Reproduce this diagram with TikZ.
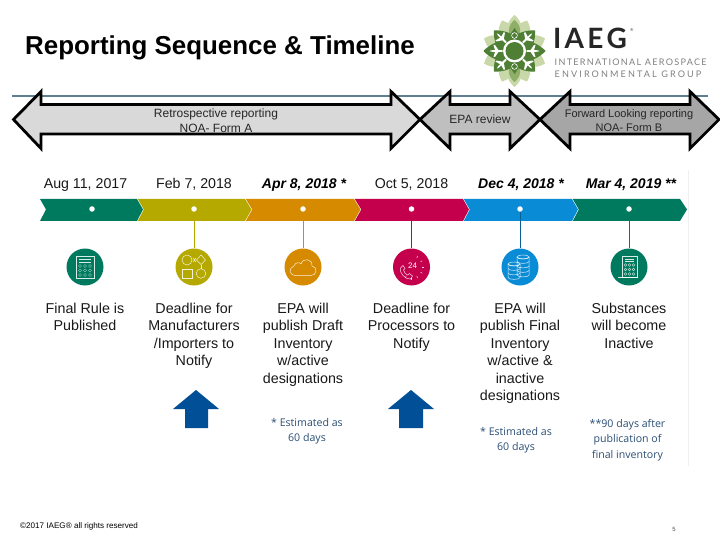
\documentclass[tikz,border=0pt]{standalone}
\usepackage{fontspec}
\setmainfont{Liberation Sans}
\newfontfamily\notefont{Open Sans}
\newfontfamily\logofont{Lato}
\newfontfamily\logospaced[LetterSpace=14]{Lato}
\newfontfamily\logowider[LetterSpace=23]{Lato}
\definecolor{cteal}{HTML}{007A5E}
\definecolor{colive}{HTML}{B5A900}
\definecolor{corange}{HTML}{D68A00}
\definecolor{ccrim}{HTML}{C4004C}
\definecolor{cblue}{HTML}{0A8BD6}
\definecolor{cbar}{HTML}{5F7F8F}
\definecolor{cup}{HTML}{004F97}
\definecolor{cnote}{HTML}{2A4E75}
\definecolor{lgdark}{HTML}{4E7F35}
\definecolor{lgmid}{HTML}{8FAE68}
\definecolor{lglight}{HTML}{C9D8A8}
\tikzset{
  x=1pt,y=-1pt,
  bigarrow/.style={draw=black,line width=2.8pt,miter limit=10,line join=miter},
  arrowtext/.style={font=\fontsize{12}{15.5}\selectfont,align=center,text=black!85,inner sep=0pt},
  datelabel/.style={font=\fontsize{14.2}{16}\selectfont,inner sep=0pt,text=black!90,anchor=base},
  datebold/.style={font=\fontsize{14}{16}\selectfont\bfseries\itshape,inner sep=0pt,anchor=base},
  desc/.style={font=\fontsize{14.3}{17.5}\selectfont,align=center,anchor=north,inner sep=0pt,text=black!90},
  tdot/.style={circle,fill=white,inner sep=0pt,minimum size=5.5pt},
  disc/.style={circle,inner sep=0pt,minimum size=37pt},
  conn/.style={line width=0.9pt},
  icon/.style={draw=white,draw opacity=0.85,line width=0.5pt,fill=none},
  note/.style={font=\notefont\fontsize{10.6}{15.3}\selectfont,text=cnote,align=center,inner sep=0pt}
}
\begin{document}
\begin{tikzpicture}
\useasboundingbox (0,0) rectangle (720,540);
\fill[white] (0,0) rectangle (720,540);
% title
\node[anchor=base west,inner sep=0pt,font=\fontsize{25.9}{30}\selectfont\bfseries] (title) at (25,55) {Reporting Sequence \& Timeline};
% rule behind the arrows
\coordinate (ruleL) at (12,96);
\coordinate (ruleR) at (708,96);
\draw[cbar,line width=1.8pt] (ruleL) -- (ruleR);
% logo
\begin{scope}[shift={(514.5,51)}]
  \foreach \a in {22.5,67.5,...,337.5} {
    \fill[lglight,rotate=\a] (0,-8) .. controls (-12,-16) and (-9,-26) .. (0,-33) .. controls (9,-26) and (12,-16) .. (0,-8) -- cycle;
  }
  \foreach \a in {0,180} {
    \fill[lglight,rotate=\a] (0,-8) .. controls (-12,-20) and (-7,-30) .. (0,-36) .. controls (7,-30) and (12,-20) .. (0,-8) -- cycle;
    \fill[lgmid,rotate=\a] (0,-8) .. controls (-9,-18) and (-6,-26) .. (0,-31) .. controls (6,-26) and (9,-18) .. (0,-8) -- cycle;
  }
  \foreach \a/\r in {45/29,90/31,135/29,225/29,270/31,315/29} {
    \fill[lgdark,rotate=\a] (-10,-9) .. controls (-11,-15) and (-6,-\r+5) .. (0,-\r) .. controls (6,-\r+5) and (11,-15) .. (10,-9) -- (0,0) -- cycle;
  }
  \foreach \a in {0,180} {
    \fill[lgdark,rotate=\a] (-8,-11) -- (0,-23) -- (8,-11) -- (0,0) -- cycle;
  }
  \foreach \a in {45,90,135,225,270,315} {
    \fill[white,rotate=\a] (-0.9,-12) -- (-0.9,-16) -- (-6,-19.5) -- (-6,-21) -- (-0.9,-19.5) -- (-0.7,-23) -- (0,-25) -- (0.7,-23) -- (0.9,-19.5) -- (6,-21) -- (6,-19.5) -- (0.9,-16) -- (0.9,-12) -- cycle;
  }
  \fill[white] (0,0) circle (11.5);
  \fill[lgdark] (0,0) circle (9);
  \foreach \a in {0,180} {
    \fill[white,rotate=\a] (0,-15.5) circle (3.2);
    \fill[lgdark,rotate=\a] (0,-15.5) circle (2.4);
  }
\end{scope}
\node[anchor=base west,inner sep=0pt,font=\logofont\bfseries\fontsize{28}{30}\selectfont,text=black!85] (iaeg) at (553,49) {I\kern3.2pt A\kern3.2pt E\kern3.2pt G};
\node[anchor=base west,inner sep=0pt,font=\logofont\fontsize{4}{4}\selectfont,text=black!70] (reg) at (630,32) {®};
\node[anchor=base west,inner sep=0pt,font=\logospaced\fontsize{9.1}{12}\selectfont,text=black!50] (lg1) at (554.5,65.5) {INTERNATIONAL AEROSPACE};
\node[anchor=base west,inner sep=0pt,font=\logowider\fontsize{9.1}{12}\selectfont,text=black!50] (lg2) at (554.5,77.5) {ENVIRONMENTAL GROUP};
% big arrows
\draw[bigarrow,fill=black!15] (13.5,119.5) -- (41,91.5) -- (41,104.5) -- (391,104.5) -- (391,91.5) -- (420,119.5) -- (391,148.5) -- (391,134) -- (41,134) -- (41,148.5) -- cycle;
\draw[bigarrow,fill=black!25] (420,119.5) -- (450,91.5) -- (450,104.5) -- (510,104.5) -- (510,91.5) -- (540,119.5) -- (510,148.5) -- (510,134) -- (450,134) -- (450,148.5) -- cycle;
\draw[bigarrow,fill=black!35] (540,119.5) -- (570,91.5) -- (570,104.5) -- (690,104.5) -- (690,91.5) -- (719,119.5) -- (690,148.5) -- (690,134) -- (570,134) -- (570,148.5) -- cycle;
\node[arrowtext] (t1) at (216,120.5) {Retrospective reporting\\NOA- Form A};
\node[arrowtext] (t2) at (480,119.5) {EPA review};
\node[arrowtext,font=\fontsize{11}{14.5}\selectfont] (t3) at (629,120.5) {Forward Looking reporting\\NOA- Form B};
% faint edge of the picture
\draw[black!6,line width=0.8pt] (688,170) -- (688,466);
% dates
\node[datelabel] (d1) at (85.5,189) {Aug 11, 2017};
\node[datelabel] (d2) at (194,189) {Feb 7, 2018};
\node[datebold] (d3) at (304,189) {Apr 8, 2018 *};
\node[datelabel] (d4) at (411.5,189) {Oct 5, 2018};
\node[datebold] (d5) at (521,189) {Dec 4, 2018 *};
\node[datebold] (d6) at (631,189) {Mar 4, 2019 **};
% band
\fill[cteal] (40,199) -- (137,199) -- (143,209.5) -- (137,221) -- (40,221) -- (46,209.5) -- cycle;
\fill[colive] (137.8,199) -- (245,199) -- (251.5,209.5) -- (245,221) -- (137.8,221) -- (143.8,209.5) -- cycle;
\fill[corange] (245.8,199) -- (354,199) -- (360.5,209.5) -- (354,221) -- (245.8,221) -- (252.3,209.5) -- cycle;
\fill[ccrim] (354.8,199) -- (463,199) -- (469,209.5) -- (463,221) -- (354.8,221) -- (361.3,209.5) -- cycle;
\fill[cblue] (463.8,199) -- (572,199) -- (578,209.5) -- (572,221) -- (463.8,221) -- (469.8,209.5) -- cycle;
\fill[cteal] (572.8,199) -- (680,199) -- (687,209.5) -- (680,221) -- (572.8,221) -- (578.8,209.5) -- cycle;
% dots and discs
\node[tdot] (p1) at (92,209) {};
\node[tdot] (p2) at (194,209) {};
\node[tdot] (p3) at (303,209) {};
\node[tdot] (p4) at (411.5,209) {};
\node[tdot] (p5) at (520,209) {};
\node[tdot] (p6) at (629,209) {};
\node[disc,fill=cteal] (c1) at (85,267) {};
\node[disc,fill=colive] (c2) at (194,267) {};
\node[disc,fill=corange] (c3) at (303,267) {};
\node[disc,fill=ccrim] (c4) at (411.5,267) {};
\node[disc,fill=cblue] (c5) at (520,267) {};
\node[disc,fill=cteal] (c6) at (629,267) {};
\draw[conn,colive] (p2) -- (c2);
\draw[conn,corange] (p3) -- (c3);
\draw[conn,ccrim] (p4) -- (c4);
\draw[conn,cblue!70!black] (p5) -- (c5);
\draw[conn,cteal] (p6) -- (c6);
% icon 1: calculator
\begin{scope}[shift={(85,267)}]
  \draw[icon] (-9,-11) rectangle (9,11);
  \draw[icon] (-6,-8) -- (6,-8) (-6,-5) -- (6,-5);
  \foreach \yy in {-1,3.5,8} \foreach \xx in {-5,0,5} \draw[icon,line width=0.35pt] (\xx,\yy) circle (1.5);
\end{scope}
% icon 2: shapes
\begin{scope}[shift={(194,267)}]
  \draw[icon] (-7,-7) circle (5);
  \draw[icon] (-12,2) rectangle (-2,11.5);
  \draw[icon] (7,-12) -- (11.5,-7) -- (7,-2.5) -- (2.5,-7) -- cycle;
  \draw[icon] (7,6.5) circle (4.8);
  \draw[icon] (7,-2.5) -- (7,1.7);
  \draw[icon] (-1,-9) -- (2,-5) (-1,-5) -- (2,-9);
\end{scope}
% icon 3: cloud
\begin{scope}[shift={(303,267)}]
  \draw[icon] (-7,8.5) .. controls (-14,8.5) and (-15,1) .. (-9,-1) .. controls (-8,-5) and (-3,-5) .. (-2,-3) .. controls (0,-10) and (10,-8) .. (9,-1) .. controls (15,0) and (14,8.5) .. (8,8.5) -- cycle;
\end{scope}
% icon 4: phone 24
\begin{scope}[shift={(411.5,267)}]
  \node[font=\fontsize{8}{8}\selectfont,text=white,inner sep=0pt] (n24) at (1,-1.5) {24};
  \foreach \a in {-60,-30,...,120} \draw[icon,line width=0.5pt] (\a:10.5) -- (\a:12.5);
  \draw[icon] (-11,1) .. controls (-13,5) and (-6,13) .. (-1,12) -- (1,9) -- (-2,6.5) -- (-4,8) .. controls (-6,7) and (-7,6) .. (-8,3) -- (-6.5,1.5) -- (-8.5,-1.5) -- cycle;
\end{scope}
% icon 5: database stacks
\begin{scope}[shift={(520,267)}]
  \foreach \xx/\yy/\n in {3/-10/4,-6/-3/3} {
    \foreach \k in {1,...,\n} {
      \draw[icon] (\xx-6,\yy+\k*4.5-4.5) .. controls (\xx-6,\yy+\k*4.5-2) and (\xx+6,\yy+\k*4.5-2) .. (\xx+6,\yy+\k*4.5-4.5);
    }
    \draw[icon] (\xx,\yy) ellipse (6 and 2);
    \draw[icon] (\xx-6,\yy) -- (\xx-6,\yy+\n*4.5) .. controls (\xx-6,\yy+\n*4.5+2.5) and (\xx+6,\yy+\n*4.5+2.5) .. (\xx+6,\yy+\n*4.5) -- (\xx+6,\yy);
  }
\end{scope}
% icon 6: calculator on a stand
\begin{scope}[shift={(629,267)}]
  \draw[icon] (-7,-11) rectangle (8,10);
  \draw[icon] (-4,-8) -- (5,-8) (-4,-5.5) -- (5,-5.5);
  \foreach \yy in {-2,2.5,7} \foreach \xx in {-3.5,0.5,4.5} \draw[icon,line width=0.35pt] (\xx,\yy) circle (1.4);
  \draw[icon] (-11,10) -- (9,10);
\end{scope}
% descriptions
\node[desc] (e1) at (85,302.7) {Final Rule is\\Published};
\node[desc] (e2) at (194,302.7) {Deadline for\\Manufacturers\\/Importers to\\Notify};
\node[desc] (e3) at (303,302.7) {EPA will\\publish Draft\\Inventory\\w/active\\designations};
\node[desc] (e4) at (411.5,302.7) {Deadline for\\Processors to\\Notify};
\node[desc] (e5) at (520,302.7) {EPA will\\publish Final\\Inventory\\w/active \&\\inactive\\designations};
\node[desc] (e6) at (629,302.7) {Substances\\will become\\Inactive};
% up arrows
\fill[cup] (196,390) -- (219,409) -- (208,409) -- (208,428) -- (185,428) -- (185,409) -- (173,409) -- cycle;
\fill[cup] (411,390) -- (434,409) -- (423,409) -- (423,428) -- (399,428) -- (399,409) -- (388,409) -- cycle;
% notes
\node[note] (n1) at (307,431.5) {* Estimated as\\60 days};
\node[note] (n2) at (516,440) {* Estimated as\\60 days};
\node[note] (n3) at (627.5,440) {**90 days after\\publication of\\final inventory};
% footer
\node[anchor=base west,inner sep=0pt,font=\fontsize{8.1}{10}\selectfont] (foot) at (20,528) {©2017 IAEG® all rights reserved};
\node[inner sep=0pt,font=\fontsize{6}{7}\selectfont,text=black!70] (pg) at (674,529) {5};
\end{tikzpicture}
\end{document}
